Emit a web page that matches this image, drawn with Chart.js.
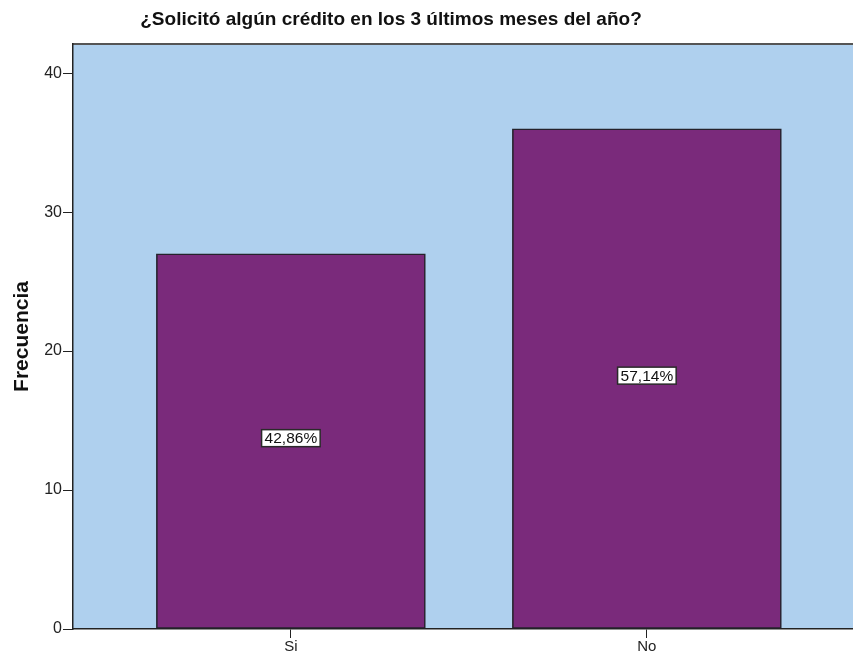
<!DOCTYPE html>
<html>
<head>
<meta charset="utf-8">
<script src="https://cdn.jsdelivr.net/npm/chart.js@4"></script>
<style>
  html, body { margin: 0; padding: 0; background: #fff; overflow: hidden; }
  #wrap { width: 853px; height: 656px; position: relative; }
</style>
</head>
<body>
<div id="wrap"><canvas id="chart"></canvas></div>
<script>
const titleText = '¿Solicitó algún crédito en los 3 últimos meses del año?';
const categories = ['Si', 'No'];
const counts = [27, 36];
const percentLabels = ['42,86%', '57,14%'];
const yTicks = [0, 10, 20, 30, 40];

const fontFam = '"Liberation Sans", Arial, sans-serif';

// plot background + top frame line + title
const backdrop = {
  id: 'backdrop',
  beforeDraw(chart) {
    const { ctx, chartArea: a } = chart;
    ctx.save();
    ctx.fillStyle = '#afd0ee';
    ctx.fillRect(a.left, a.top, a.right - a.left, a.bottom - a.top);
    ctx.strokeStyle = '#555';
    ctx.lineWidth = 2;
    ctx.beginPath();
    ctx.moveTo(a.left, a.top);
    ctx.lineTo(a.right, a.top);
    ctx.stroke();
    ctx.restore();
  },
  afterDraw(chart) {
    const { ctx } = chart;
    ctx.save();
    ctx.fillStyle = '#111';
    ctx.font = 'bold 19px ' + fontFam;
    ctx.textAlign = 'center';
    ctx.textBaseline = 'middle';
    ctx.fillText(titleText, 391, 20);
    ctx.restore();
  }
};

// percentage boxes in the middle of each bar
const boxLabels = {
  id: 'boxLabels',
  afterDatasetsDraw(chart) {
    const { ctx } = chart;
    const meta = chart.getDatasetMeta(0);
    ctx.save();
    ctx.font = '15.5px ' + fontFam;
    ctx.textAlign = 'center';
    ctx.textBaseline = 'middle';
    meta.data.forEach((bar, i) => {
      const txt = percentLabels[i];
      const w = ctx.measureText(txt).width + 6;
      const h = 17;
      const cx = bar.x;
      const cy = (bar.y + bar.base) / 2 - 3;
      ctx.fillStyle = '#fff';
      ctx.fillRect(cx - w / 2, cy - h / 2, w, h);
      ctx.strokeStyle = '#2a2a2a';
      ctx.lineWidth = 1.5;
      ctx.strokeRect(cx - w / 2, cy - h / 2, w, h);
      ctx.fillStyle = '#111';
      ctx.fillText(txt, cx, cy + 1);
    });
    ctx.restore();
  }
};

new Chart(document.getElementById('chart'), {
  type: 'bar',
  data: {
    datasets: [{
      data: categories.map((c, i) => ({ x: i, y: counts[i] })),
      backgroundColor: '#7a2a7b',
      borderColor: '#25222b',
      borderWidth: 1.6,
      borderSkipped: false,
      barThickness: 269
    }]
  },
  plugins: [backdrop, boxLabels],
  options: {
    responsive: true,
    maintainAspectRatio: false,
    animation: false,
    layout: { padding: { top: 44, right: 0, left: 0, bottom: 0 } },
    plugins: {
      legend: { display: false },
      tooltip: { enabled: false }
    },
    scales: {
      x: {
        type: 'linear',
        offset: false,
        min: -0.612,
        max: 1.579,
        grid: { offset: false, drawOnChartArea: false, drawTicks: true, tickLength: 9, color: '#222' },
        border: { display: true, color: '#222', width: 1.5 },
        afterBuildTicks(scale) {
          scale.ticks = categories.map((c, i) => ({ value: i }));
        },
        afterFit(scale) { scale.height = 27; },
        ticks: {
          color: '#222',
          font: { family: fontFam, size: 15 },
          padding: 0,
          maxRotation: 0,
          callback: v => categories[v]
        }
      },
      y: {
        min: 0,
        max: 42.1,
        grid: { drawOnChartArea: false, drawTicks: true, tickLength: 10, color: '#222' },
        border: { display: true, color: '#222', width: 1.5 },
        afterBuildTicks(scale) {
          scale.ticks = yTicks.map(v => ({ value: v }));
        },
        afterFit(scale) { scale.width = 73; },
        ticks: {
          color: '#222',
          font: { family: fontFam, size: 16 },
          padding: 1
        },
        title: {
          display: true,
          text: 'Frecuencia',
          color: '#111',
          font: { family: fontFam, size: 21, weight: 'bold' },
          padding: { top: 10, bottom: 0 }
        }
      }
    }
  }
});
</script>
</body>
</html>
